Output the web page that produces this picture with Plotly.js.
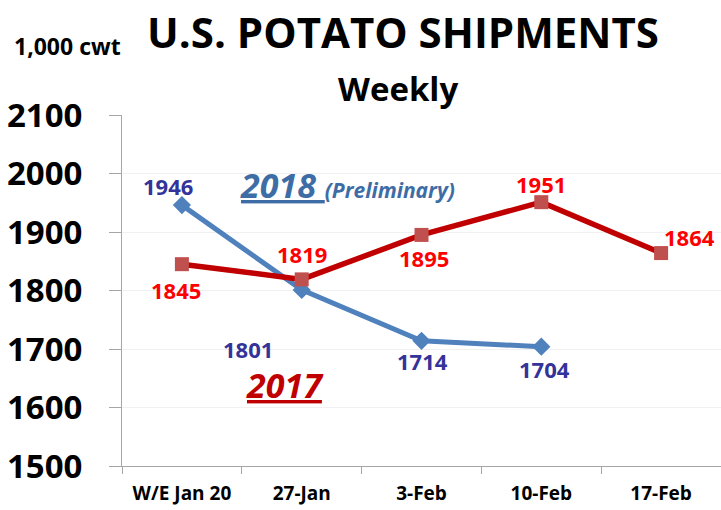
<!DOCTYPE html>
<html>
<head>
<meta charset="utf-8">
<script src="https://cdn.plot.ly/plotly-3.0.1.min.js"></script>
<style>html,body{margin:0;padding:0;background:#fff;}#chart{width:721px;height:510px;}</style>
</head>
<body>
<div id="chart"></div>
<script>
const weeks = ["W/E Jan 20", "27-Jan", "3-Feb", "10-Feb", "17-Feb"];
const ship2018 = [1946, 1801, 1714, 1704];
const ship2017 = [1845, 1819, 1895, 1951, 1864];
const yTicks = [1500, 1600, 1700, 1800, 1900, 2000, 2100];

// label offsets (px) for data labels
const off2018 = [[-14, 19], [-54, -59], [1, -20], [3, -22]];
const off2017 = [[-6, -26], [0, 25], [2, -23], [0, 18], [28, 16]];

const F = "'Open Sans', 'Noto Sans', sans-serif";

const traces = [
  {
    x: weeks.slice(0, ship2018.length), y: ship2018, type: 'scatter', mode: 'lines+markers',
    name: '2018', line: {color: '#4F81BD', width: 5},
    marker: {symbol: 'diamond', size: 14, color: '#4F81BD'}, cliponaxis: false
  },
  {
    x: weeks, y: ship2017, type: 'scatter', mode: 'lines+markers',
    name: '2017', line: {color: '#C00000', width: 5.5},
    marker: {symbol: 'square', size: 14, color: '#C0504D'}, cliponaxis: false
  }
];

const annotations = [];
ship2018.forEach((v, i) => annotations.push({
  x: weeks[i], y: v, xref: 'x', yref: 'y', text: '<b>' + v + '</b>', showarrow: false,
  xshift: off2018[i][0], yshift: off2018[i][1],
  font: {family: F, size: 22, color: '#333399'}
}));
ship2017.forEach((v, i) => annotations.push({
  x: weeks[i], y: v, xref: 'x', yref: 'y', text: '<b>' + v + '</b>', showarrow: false,
  xshift: off2017[i][0], yshift: off2017[i][1],
  font: {family: F, size: 22, color: '#FF0000'}
}));
annotations.push({
  xref: 'paper', yref: 'paper', x: 0.376, y: 0.80, xanchor: 'center', yanchor: 'middle', showarrow: false,
  text: '<span style="text-decoration:underline"><b><i>2018 </i></b></span><b><i><span style="font-size:21px">(Preliminary)</span></i></b>',
  font: {family: F, size: 34, color: '#3E6DA6'}
});
annotations.push({
  xref: 'paper', yref: 'paper', x: 0.272, y: 0.23, xanchor: 'center', yanchor: 'middle', showarrow: false,
  text: '<span style="text-decoration:underline"><b><i>2017</i></b></span>',
  font: {family: F, size: 34, color: '#C00000'}
});
annotations.push({
  xref: 'paper', yref: 'paper', x: (398 - 122) / 599, y: (466 - 89) / 351,
  xanchor: 'center', yanchor: 'middle', showarrow: false,
  text: '<b>Weekly</b>', font: {family: F, size: 33, color: '#000'}
});
annotations.push({
  xref: 'paper', yref: 'paper', x: (67 - 122) / 599, y: (466 - 46) / 351,
  xanchor: 'center', yanchor: 'middle', showarrow: false,
  text: '<b>1,000 cwt</b>', font: {family: F, size: 23, color: '#000'}
});

const layout = {
  width: 721, height: 510,
  margin: {l: 122, r: 0, t: 115, b: 44},
  paper_bgcolor: '#fff', plot_bgcolor: '#fff',
  showlegend: false,
  title: {
    text: '<b>U.S. POTATO SHIPMENTS</b>', x: 403 / 721, xanchor: 'center', xref: 'container',
    y: 1 - 33 / 510, yanchor: 'middle', yref: 'container',
    font: {family: F, size: 42, color: '#000'}
  },
  xaxis: {
    type: 'category', categoryarray: weeks, range: [-0.5, 4.5],
    tickson: 'boundaries', ticks: 'outside', ticklen: 7, tickcolor: '#A6A6A6',
    showline: true, linecolor: '#A6A6A6', linewidth: 1, showgrid: false, zeroline: false,
    ticklabelstandoff: 10,
    tickfont: {family: F, size: 19, color: '#000', weight: 'bold'}
  },
  yaxis: {
    range: [1500, 2100], tickvals: yTicks, ticktext: yTicks.map(String),
    ticks: 'outside', ticklen: 12, tickcolor: '#A6A6A6',
    showline: true, linecolor: '#A6A6A6', linewidth: 1,
    showgrid: true, gridcolor: '#F0F0F0', zeroline: false,
    ticklabelstandoff: 20,
    tickfont: {family: F, size: 33, color: '#000', weight: 'bold'}
  },
  annotations: annotations
};

Plotly.newPlot('chart', traces, layout, {displayModeBar: false, staticPlot: true});
</script>
</body>
</html>
